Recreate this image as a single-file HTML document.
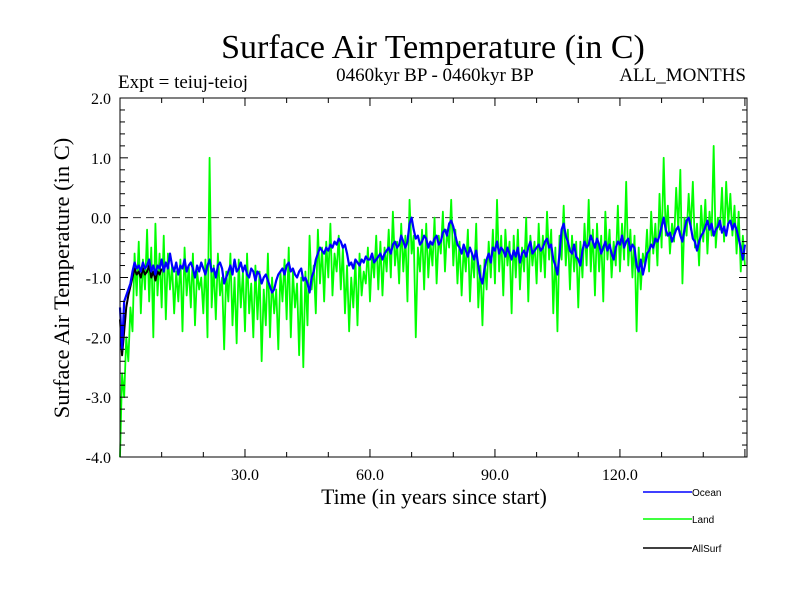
<!DOCTYPE html>
<html><head><meta charset="utf-8"><style>
body{margin:0;background:#fff;}
svg text{font-family:"Liberation Serif",serif;fill:#000;}
</style></head><body>
<svg id="chart" width="800" height="600" xmlns="http://www.w3.org/2000/svg">
<text x="433" y="58" font-size="34" text-anchor="middle">Surface Air Temperature (in C)</text>
<text x="118" y="88" font-size="19">Expt = teiuj-teioj</text>
<text x="435" y="81" font-size="19" text-anchor="middle">0460kyr BP - 0460kyr BP</text>
<text x="746" y="81" font-size="19" text-anchor="end">ALL_MONTHS</text>
<text transform="translate(69,278) rotate(-90)" font-size="22.5" text-anchor="middle">Surface Air Temperature (in C)</text>
<text x="434" y="504" font-size="21.7" text-anchor="middle">Time (in years since start)</text>
<g id="plot"></g>
<g id="axes"></g>
<g>
<line x1="643" y1="492" x2="692" y2="492" stroke="#0000ff" stroke-width="1.5"/>
<text x="692" y="496" font-size="10" style="font-family:'Liberation Sans',sans-serif">Ocean</text>
<line x1="643" y1="519" x2="692" y2="519" stroke="#00ff00" stroke-width="1.5"/>
<text x="692" y="523" font-size="10" style="font-family:'Liberation Sans',sans-serif">Land</text>
<line x1="643" y1="548" x2="692" y2="548" stroke="#000" stroke-width="1.5"/>
<text x="692" y="552" font-size="10" style="font-family:'Liberation Sans',sans-serif">AllSurf</text>
</g>
</svg>
<script>
const xTicks=[30,60,90,120];
const xTickLabels=["30.0","60.0","90.0","120.0"];
const yTicks=[-4,-3,-2,-1,0,1,2];
const yTickLabels=["-4.0","-3.0","-2.0","-1.0","0.0","1.0","2.0"];
const timeStep=0.5;
const land=[-4.0,-2.6,-3.0,-2.0,-2.4,-1.5,-1.9,-0.6,-1.3,-0.4,-1.6,-0.7,-1.2,-0.2,-1.4,-0.5,-2.0,-0.1,-1.3,-0.6,
-1.5,-0.3,-1.7,-0.6,-1.2,-0.8,-1.6,-0.9,-1.4,-0.7,-1.9,-0.5,-1.3,-0.8,-1.5,-0.6,-1.8,-0.9,-1.2,-1.0,
-1.6,-0.7,-2.0,1.0,-1.5,-0.8,-1.7,-0.6,-1.3,-1.0,-2.2,-0.9,-1.4,-0.6,-1.8,-1.0,-2.1,-0.7,-1.5,-0.9,
-1.9,-0.6,-1.6,-1.1,-2.0,-0.8,-1.7,-0.9,-2.4,-1.2,-1.8,-0.6,-2.0,-1.0,-1.6,-1.2,-2.2,-0.9,-1.4,-0.7,
-1.7,-0.5,-2.0,-0.9,-1.5,-1.1,-2.3,-1.0,-2.5,-0.9,-1.8,-0.3,-1.2,-0.8,-1.6,-0.2,-1.1,-0.5,-1.4,-0.4,
-1.0,-0.1,-1.3,-0.6,-0.9,-0.3,-1.2,-0.5,-1.6,-0.8,-1.9,-1.0,-1.5,-0.7,-1.8,-0.6,-1.3,-0.9,-1.1,-0.5,
-1.4,-0.6,-1.0,-0.3,-1.2,-0.4,-1.3,-0.5,-0.9,-0.2,-1.0,0.1,-0.8,-0.4,-1.1,-0.1,-0.9,-0.3,-1.4,0.3,
-0.6,-0.3,-2.0,-0.5,-0.9,-0.2,-1.2,-0.1,-1.0,-0.4,-0.8,0.0,-1.1,-0.3,-0.6,0.1,-0.9,-0.2,-0.5,0.3,
-0.8,-0.2,-1.1,-0.4,-1.3,-0.5,-0.9,-0.2,-1.4,-0.6,-1.0,-0.1,-1.5,-0.8,-1.8,-0.7,-1.2,-0.4,-1.0,-0.2,
-1.1,0.3,-0.9,-0.3,-1.3,-0.2,-0.8,-0.4,-1.6,-0.3,-1.0,-0.2,-1.2,-0.5,-0.9,0.0,-1.4,-0.3,-0.8,-0.4,
-1.1,-0.1,-0.9,-0.3,-1.0,0.1,-0.7,-0.2,-1.6,-0.5,-1.9,-0.3,-0.7,0.2,-0.8,-0.2,-1.2,-0.3,-0.9,-0.4,
-1.5,-0.4,-1.0,-0.1,-0.8,0.3,-0.9,-0.2,-1.3,-0.1,-0.9,-0.3,-1.4,0.1,-0.7,-0.2,-1.0,-0.4,-0.8,0.2,
-0.9,-0.1,-0.7,0.6,-0.8,-0.2,-1.0,-0.3,-1.9,-0.5,-1.2,-0.6,-0.8,-0.2,-0.9,0.1,-0.6,-0.1,-0.8,0.4,
-0.5,1.0,-0.3,0.2,-0.6,-0.1,-0.4,0.5,-0.2,0.8,-1.1,0.0,-0.3,0.4,-0.2,0.6,-0.5,-0.1,-0.8,0.2,
-0.4,0.3,-0.6,0.1,-0.3,1.2,-0.5,0.0,-0.2,0.5,-0.4,0.6,-0.1,0.4,-0.3,0.2,-0.6,0.1,-0.9,-0.3,-0.8];
const ocean=[-1.5,-2.2,-1.4,-1.3,-1.2,-1.1,-0.9,-0.75,-0.85,-0.8,-0.9,-0.75,-0.85,-0.8,-0.7,-0.9,-0.8,-0.95,-0.8,-0.85,
-0.7,-0.9,-0.75,-0.85,-0.6,-0.8,-0.9,-0.75,-0.95,-0.8,-0.85,-0.7,-0.9,-0.8,-0.75,-0.85,-1.0,-0.8,-0.9,-0.75,
-0.85,-0.95,-0.8,-0.7,-0.9,-0.85,-1.0,-0.8,-0.75,-0.85,-1.1,-1.0,-0.9,-0.8,-0.95,-0.7,-0.9,-0.85,-0.75,-0.9,
-0.8,-0.95,-1.0,-0.85,-0.9,-1.05,-0.9,-0.95,-1.1,-1.0,-0.95,-1.05,-1.15,-1.25,-1.2,-1.05,-0.95,-0.9,-0.85,-0.95,
-0.8,-0.75,-0.9,-0.85,-0.95,-1.0,-0.9,-0.85,-1.05,-1.0,-1.1,-1.25,-1.0,-0.9,-0.7,-0.6,-0.5,-0.55,-0.6,-0.5,
-0.55,-0.45,-0.5,-0.4,-0.45,-0.35,-0.4,-0.5,-0.45,-0.6,-0.8,-0.75,-0.85,-0.7,-0.75,-0.8,-0.7,-0.75,-0.65,-0.7,
-0.7,-0.6,-0.75,-0.7,-0.65,-0.6,-0.7,-0.6,-0.55,-0.5,-0.6,-0.45,-0.4,-0.5,-0.45,-0.3,-0.4,-0.5,-0.4,-0.1,
0.0,-0.2,-0.35,-0.3,-0.45,-0.4,-0.3,-0.35,-0.5,-0.4,-0.45,-0.35,-0.3,-0.45,-0.4,-0.25,-0.2,-0.3,-0.1,-0.05,
-0.15,-0.3,-0.45,-0.5,-0.6,-0.45,-0.55,-0.65,-0.5,-0.6,-0.7,-0.55,-0.8,-1.0,-1.1,-0.85,-0.7,-0.6,-0.75,-0.5,
-0.55,-0.4,-0.6,-0.5,-0.55,-0.65,-0.5,-0.6,-0.7,-0.55,-0.65,-0.5,-0.75,-0.6,-0.55,-0.65,-0.5,-0.4,-0.6,-0.55,
-0.5,-0.45,-0.55,-0.5,-0.4,-0.35,-0.5,-0.45,-0.7,-0.8,-0.95,-0.6,-0.2,-0.1,-0.3,-0.4,-0.55,-0.6,-0.45,-0.65,
-0.7,-0.8,-0.55,-0.4,-0.5,-0.45,-0.3,-0.4,-0.5,-0.35,-0.45,-0.6,-0.5,-0.4,-0.55,-0.45,-0.6,-0.7,-0.5,-0.4,
-0.45,-0.3,-0.5,-0.4,-0.35,-0.55,-0.45,-0.5,-0.8,-0.9,-0.7,-0.95,-0.8,-0.6,-0.55,-0.45,-0.5,-0.35,-0.4,-0.3,
-0.15,0.0,-0.2,-0.3,-0.25,-0.4,-0.3,-0.2,-0.15,-0.3,-0.4,-0.2,-0.05,0.0,-0.15,-0.35,-0.4,-0.55,-0.4,-0.3,
-0.25,-0.15,-0.05,-0.2,-0.1,-0.3,-0.2,-0.15,-0.05,-0.25,-0.15,-0.3,-0.1,-0.05,-0.2,-0.1,-0.2,-0.35,-0.5,-0.7,-0.45];
const allSurf=[-1.7,-2.3,-1.9,-1.5,-1.3,-1.15,-1.0,-0.85,-0.95,-0.9,-1.0,-0.85,-0.95,-0.9,-0.8,-1.0,-0.9,-1.05,-0.9,-0.95,-0.85];

const X0=120,X1=747,Y0=457,Y1=98,XMIN=0,XMAX=150.5,YMIN=-4,YMAX=2;
const sx=v=>X0+(v-XMIN)/(XMAX-XMIN)*(X1-X0);
const sy=v=>Y0-(v-YMIN)/(YMAX-YMIN)*(Y0-Y1);
const NS="http://www.w3.org/2000/svg";
const plot=document.getElementById('plot'),axes=document.getElementById('axes');
function mk(tag,attrs,parent){const e=document.createElementNS(NS,tag);for(const k in attrs)e.setAttribute(k,attrs[k]);parent.appendChild(e);return e;}
function series(arr,color,w,name){
  const d=arr.map((v,i)=>(i?'L':'M')+sx(i*timeStep).toFixed(2)+' '+sy(v).toFixed(2)).join(' ');
  const p=mk('path',{d:d,fill:'none',stroke:color,'stroke-width':w,'stroke-linejoin':'round'},plot);
  
  
}
const zl=mk('line',{x1:X0,x2:X1,y1:sy(0),y2:sy(0),stroke:'#333','stroke-width':1,'stroke-dasharray':'8,5'},plot);


series(land,'#00ff00',1.8,'land-series');
series(allSurf,'#000000',2,'allsurf-series');
series(ocean,'#0000ff',2.2,'ocean-series');
const fr=mk('rect',{x:X0,y:Y1,width:X1-X0,height:Y0-Y1,fill:'none',stroke:'#000','stroke-width':1},axes);


for(let t=10;t<XMAX;t+=10){
  const big=t%30===0,L=big?8:5;
  mk('line',{x1:sx(t),x2:sx(t),y1:Y0,y2:Y0-L,stroke:'#000'},axes);
  mk('line',{x1:sx(t),x2:sx(t),y1:Y1,y2:Y1+L,stroke:'#000'},axes);
}
for(let k=0;k<=30;k++){
  const v=YMIN+k*0.2,big=k%5===0,L=big?8:5;
  mk('line',{x1:X0,x2:X0+L,y1:sy(v),y2:sy(v),stroke:'#000'},axes);
  mk('line',{x1:X1,x2:X1-L,y1:sy(v),y2:sy(v),stroke:'#000'},axes);
}
xTicks.forEach((t,i)=>{
  const e=mk('text',{x:sx(t),y:Y0+23,'font-size':16,'text-anchor':'middle'},axes);
  e.textContent=xTickLabels[i];
  
  
});
yTicks.forEach((t,i)=>{
  const e=mk('text',{x:X0-9,y:sy(t)+6,'font-size':16,'text-anchor':'end'},axes);
  e.textContent=yTickLabels[i];
  
  
});
</script>
</body></html>
